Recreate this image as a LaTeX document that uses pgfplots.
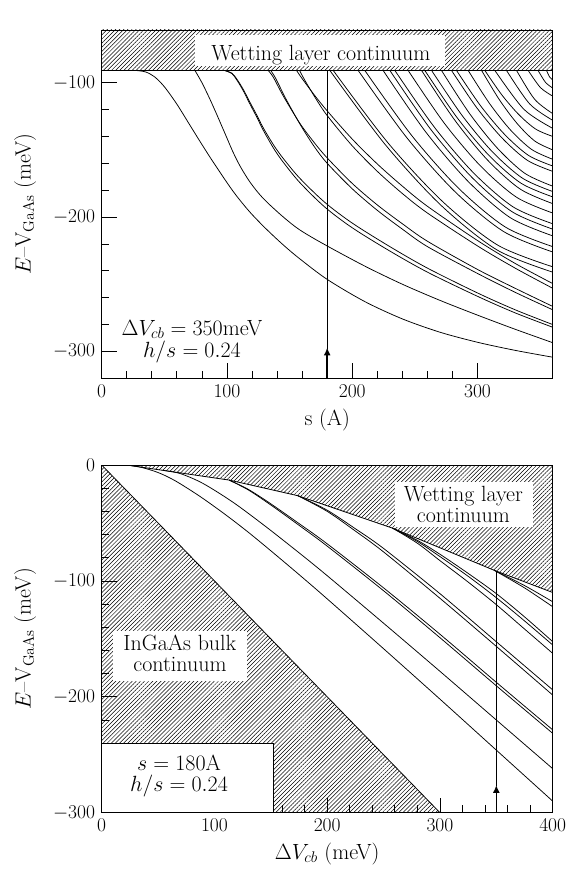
\RequirePackage{fix-cm}
\documentclass[border=0pt]{standalone}
\usepackage{pgfplots}
\pgfplotsset{compat=1.18}
\usetikzlibrary{patterns.meta,arrows.meta}
\newcommand{\tickf}{\fontsize{19.5}{22}\selectfont}
\newcommand{\txtf}{\fontsize{22}{26}\selectfont}
\tikzset{txt/.style={anchor=base, font=\txtf, inner sep=0pt}}
\begin{document}
\tickf
\begin{tikzpicture}[font=\tickf]
\useasboundingbox (-101.7pt,-496.7pt) rectangle (467.3pt,378.3pt);
\pgfplotsset{
  myax/.style={scale only axis, width=451pt,
    font=\tickf,
    every tick label/.append style={font=\tickf},
    every x tick label/.append style={inner sep=2pt, yshift=-4.5pt},
    every y tick label/.append style={inner sep=2pt, xshift=-4.5pt},
    tick align=inside, tick pos=left,
    major tick length=15pt, minor tick length=7.5pt,
    minor tick num=4,
    axis line style={line width=0.9pt},
    every tick/.style={line width=0.8pt, black},
    every axis y label/.style={at={(axis description cs:-0.17,0.5)},rotate=90,anchor=center,font=\txtf},
    ylabel={$E$--V$_{\mathrm{GaAs}}$ (meV)},
  },
  lvl/.style={black, line width=0.75pt, smooth, tension=0.5, mark=none},
  hatch/.style={draw=none, pattern={Lines[angle=45,distance=2.9pt,line width=0.5pt]}},
}
% ---------------- Panel A ----------------
\begin{axis}[myax, at={(0pt,0pt)}, anchor=south west, height=348.3pt,
  xmin=0, xmax=360, ymin=-320, ymax=-60.8,
  xtick={0,100,200,300}, ytick={-300,-200,-100},
  every axis x label/.style={at={(axis description cs:0.5,-0.12)},anchor=center,font=\txtf},
  xlabel={s (A)}]
\addplot[hatch] coordinates {(0,-91) (360,-91) (360,-50) (0,-50)} -- cycle;
\addplot[black, line width=0.8pt] coordinates {(0,-91) (360,-91)};
\fill[white] (axis cs:74.5,-87.7) rectangle (axis cs:274,-64.5);
\node[txt] at (axis cs:175,-83.3) {Wetting layer continuum};
% levels
\addplot[lvl] coordinates {(28,-91)(35,-92)(42,-95.5)(50,-103)(60,-116)(70,-131)(80,-146)(90,-160.5)(105,-181)(118,-196)(131,-208.6)(145,-220.8)(158,-231)(180,-246.4)(210,-262.9)(240,-275.8)(270,-285.7)(300,-293.2)(330,-299.2)(360,-304.3)};
\addplot[lvl] coordinates {(74.5,-91)(80,-100)(86,-111.5)(92,-124)(98.5,-138)(105,-152)(111,-163)(118,-173.5)(125,-182)(132,-189)(145,-200)(158,-209.5)(178,-220.5)(210,-236.5)(240,-250)(270,-262)(300,-273)(330,-283.5)(360,-293.5)};
\addplot[lvl] coordinates {(98.4,-91)(104,-93)(108,-97.5)(113,-105)(118,-114)(124,-124.5)(128,-132)(132,-138.5)(138,-147.5)(145,-156.5)(158,-171)(178,-189)(200,-204.5)(230,-222)(260,-238)(300,-256.5)(330,-269)(360,-280)};
\addplot[lvl] coordinates {(98.4,-91)(104,-93.3)(108,-98.2)(113,-106)(118,-115.3)(124,-126)(128,-133.7)(132,-140.5)(138,-150)(145,-159.3)(158,-174.2)(178,-192.5)(200,-208)(230,-225.3)(260,-241)(300,-259)(330,-271.3)(360,-282)};
\addplot[lvl] coordinates {(133,-91)(137,-96)(145,-110)(158,-130)(170,-145)(180,-156)(200,-175)(220,-191)(240,-205)(260,-218)(300,-239)(330,-253)(360,-266.5)};
\addplot[lvl] coordinates {(135,-91)(139,-97)(147,-112)(159,-132)(170,-148)(180,-160)(200,-179)(220,-195)(240,-209)(260,-222)(300,-242)(330,-256)(360,-269)};
\addplot[lvl] coordinates {(155.6,-91)(160,-97)(170,-109.5)(180,-121)(200,-142)(220,-160.5)(240,-177)(260,-192)(300,-217.5)(330,-234.5)(360,-249.5)};
\addplot[lvl] coordinates {(158,-91)(162,-98)(171,-112)(180,-124.5)(200,-147)(220,-166)(240,-182.5)(260,-197)(300,-221.5)(330,-238)(360,-253)};
\addplot[lvl] coordinates {(182.2,-91)(226.7,-146.5)(271.1,-191.5)(315.6,-224.5)(360,-241)};
\addplot[lvl] coordinates {(184.9,-91)(228.7,-145)(272.5,-188.8)(316.3,-221)(360,-237)};
\addplot[lvl] coordinates {(204.8,-91)(243.6,-141)(282.4,-181.5)(321.2,-211)(360,-226)};
\addplot[lvl] coordinates {(210.1,-91)(247.6,-139.5)(285.1,-178.8)(322.5,-207.6)(360,-222)};
\addplot[lvl] coordinates {(224.7,-91)(258.5,-136.5)(292.4,-173.4)(326.2,-200.5)(360,-214)};
\addplot[lvl] coordinates {(230.1,-91)(262.6,-134.7)(295.1,-170.1)(327.5,-196)(360,-209)};
\addplot[lvl] coordinates {(234.1,-91)(265.6,-133.2)(297.1,-167.4)(328.5,-192.5)(360,-205)};
\addplot[lvl] coordinates {(244.7,-91)(273.5,-130.2)(302.4,-162)(331.2,-185.3)(360,-197)};
\addplot[lvl] coordinates {(255.4,-91)(281.6,-127.6)(307.7,-157.3)(333.9,-179.1)(360,-190)};
\addplot[lvl] coordinates {(258,-91)(283.5,-125.8)(309,-154)(334.5,-174.7)(360,-185)};
\addplot[lvl] coordinates {(263.4,-91)(287.6,-124.3)(311.7,-151.3)(335.9,-171.1)(360,-181)};
\addplot[lvl] coordinates {(271.3,-91)(293.5,-122.8)(315.7,-148.6)(337.8,-167.5)(360,-177)};
\addplot[lvl] coordinates {(279.3,-91)(299.5,-118.8)(319.7,-141.3)(339.8,-157.8)(360,-166)};
\addplot[lvl] coordinates {(283.3,-91)(302.5,-117.3)(321.7,-138.6)(340.8,-154.2)(360,-162)};
\addplot[lvl] coordinates {(292.6,-91)(309.5,-115.4)(326.3,-135.2)(343.2,-149.7)(360,-157)};
\addplot[lvl] coordinates {(303.3,-91)(317.5,-112.8)(331.7,-130.5)(345.8,-143.5)(360,-150)};
\addplot[lvl] coordinates {(305.9,-91)(319.4,-109.1)(333,-123.8)(346.5,-134.6)(360,-140)};
\addplot[lvl] coordinates {(313.9,-91)(337,-119.8)(360,-134)};
\addplot[lvl] coordinates {(323.2,-91)(341.6,-115.8)(360,-128)};
\addplot[lvl] coordinates {(331.2,-91)(345.6,-112.4)(360,-123)};
\addplot[lvl] coordinates {(340.5,-91)(350.25,-103.7)(360,-110)};
\addplot[lvl] coordinates {(348.4,-91)(354.2,-99.7)(360,-104)};
\addplot[lvl] coordinates {(355.1,-91)(357.5,-95.7)(360,-98)};
% marker line
\addplot[black, line width=0.8pt] coordinates {(180,-298) (180,-91)};
\draw[-{Latex[length=8pt,width=7pt]}, line width=1.6pt] (axis cs:180,-320) -- (axis cs:180,-297);
\node[txt] at (axis cs:72,-287.8) {$\Delta V_{cb} = 350$meV};
\node[txt] at (axis cs:72,-304.6) {$h/s = 0.24$};
\node[anchor=base, font=\tickf] at (rel axis cs:0,1) [yshift=7pt] {A};
\end{axis}
% ---------------- Panel B ----------------
\begin{axis}[myax, at={(0pt,-434.4pt)}, anchor=south west, height=347.7pt,
  xmin=0, xmax=400, ymin=-300, ymax=0,
  xtick={0,100,200,300,400}, ytick={-300,-200,-100,0},
  every axis x label/.style={at={(axis description cs:0.5,-0.086)},anchor=north,inner sep=0pt,font=\txtf},
  xlabel={$\Delta V_{cb}$ (meV)}]
\addplot[hatch] coordinates {(0,0)(22,0)(113,-13)(174,-26.5)(258,-54.5)(348,-90.8)(400,-110)(400,10)(0,10)} -- cycle;
\addplot[black, line width=0.8pt] coordinates {(22,0)(113,-13)(174,-26.5)(258,-54.5)(348,-90.8)(400,-110)};
\addplot[hatch] coordinates {(0,0)(300,-300)(0,-300)} -- cycle;
\addplot[black, line width=0.8pt] coordinates {(0,0)(300,-300)};
\fill[white] (axis cs:260.1,-53.2) rectangle (axis cs:382.8,-14.4);
\node[txt] at (axis cs:320.8,-31.7) {Wetting layer};
\node[txt] at (axis cs:320.8,-49.8) {continuum};
\fill[white] (axis cs:10.3,-186) rectangle (axis cs:128.6,-143.5);
\node[txt] at (axis cs:69.4,-159.8) {InGaAs bulk};
\node[txt] at (axis cs:69.4,-178.5) {continuum};
\filldraw[fill=white, draw=black, line width=0.8pt] (axis cs:0,-300) rectangle (axis cs:152,-240);
\node[txt] at (axis cs:68.6,-263.2) {$s = 180$A};
\node[txt] at (axis cs:68.6,-281.9) {$h/s = 0.24$};
% levels
\addplot[lvl] coordinates {(22,0)(35,-2)(50,-6.5)(65,-13.5)(87,-27)(110,-43)(130,-58)(150,-74)(175,-94.5)(200,-115.5)(250,-158.5)(300,-202)(350,-246)(400,-290)};
\addplot[lvl] coordinates {(55,-4.7)(70,-7.5)(90,-16)(117,-32.5)(146,-53.5)(176,-76.5)(200,-95.5)(250,-136.5)(300,-178)(350,-220)(400,-262)};
\addplot[lvl] coordinates {(113,-13)(130,-21)(150,-33.5)(175,-50.5)(200,-68)(250,-106)(300,-146)(350,-187.5)(400,-228.5)};
\addplot[lvl] coordinates {(113,-13)(130,-21.5)(150,-34.5)(175,-52)(200,-70)(250,-108.5)(300,-149)(350,-190.5)(400,-231.5)};
\addplot[lvl] coordinates {(174,-26.5)(200,-39)(225,-55)(250,-72)(300,-111)(350,-152.5)(400,-194)};
\addplot[lvl] coordinates {(174,-26.5)(200,-40)(225,-57)(250,-75)(300,-115)(350,-156.5)(400,-198.5)};
\addplot[lvl] coordinates {(258,-54.5)(280,-65)(300,-77)(325,-93.5)(350,-111)(375,-131)(400,-152.4)};
\addplot[lvl] coordinates {(258,-54.5)(280,-66)(300,-79)(325,-96)(350,-114.5)(375,-134.5)(400,-155.3)};
\addplot[lvl] coordinates {(258,-54.5)(280,-67.5)(300,-82.5)(325,-101)(350,-120.5)(375,-141.5)(400,-162.5)};
\addplot[lvl] coordinates {(348,-90.8)(375,-104)(400,-118)};
\addplot[lvl] coordinates {(348,-90.8)(375,-106)(400,-122.3)};
\addplot[black, line width=0.8pt] coordinates {(350,-277) (350,-91.5)};
\draw[-{Latex[length=8pt,width=7pt]}, line width=1.6pt] (axis cs:350,-300) -- (axis cs:350,-276);
\node[anchor=base, font=\tickf] at (rel axis cs:0,1) [xshift=3pt, yshift=8pt] {B};
\end{axis}
\end{tikzpicture}
\end{document}
